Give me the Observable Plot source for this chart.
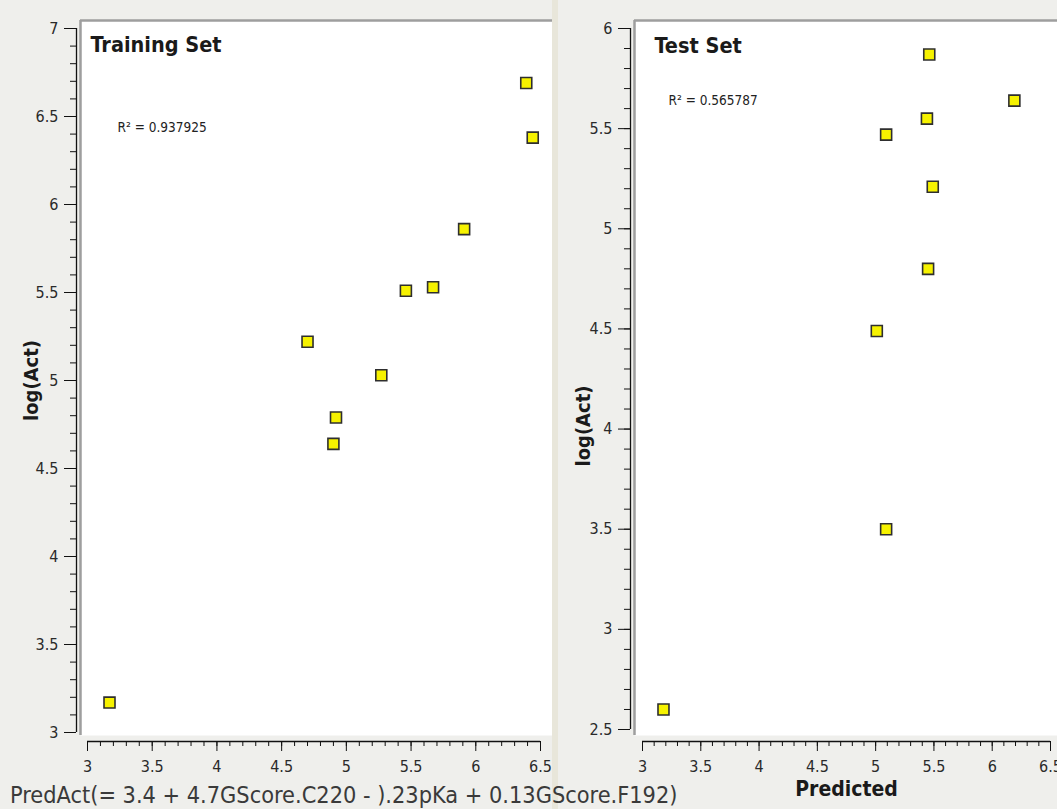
<!DOCTYPE html>
<html><head><meta charset="utf-8">
<script src="https://cdn.jsdelivr.net/npm/d3@7"></script>
<script src="https://cdn.jsdelivr.net/npm/@observablehq/plot@0.6"></script>
<style>
html,body{margin:0;padding:0;background:#efefec;}
#wrap{position:relative;width:1057px;height:809px;background:#efefec;overflow:hidden;font-family:"DejaVu Sans Condensed","DejaVu Sans",sans-serif;font-stretch:condensed;}
#wrap svg text{font-stretch:condensed;}
#left{position:absolute;left:0;top:0;}
#right{position:absolute;left:558px;top:0;}
#split{position:absolute;left:552px;top:0;width:6px;height:809px;background:#e8e6da;}
#caption{position:absolute;left:10px;top:783px;font-size:23.3px;line-height:23px;color:#3a3a3a;white-space:nowrap;}
</style></head><body>
<div id="wrap"><div id="left"></div><div id="split"></div><div id="right"></div><div id="caption"></div></div>
<script>
// ---- data ----
const trainPred = [3.17, 4.70, 4.92, 4.90, 5.27, 5.46, 5.67, 5.91, 6.39, 6.44];
const trainAct  = [3.17, 5.22, 4.79, 4.64, 5.03, 5.51, 5.53, 5.86, 6.69, 6.38];
const testPred  = [3.18, 5.46, 6.19, 5.44, 5.09, 5.49, 5.45, 5.01, 5.09];
const testAct   = [2.60, 5.87, 5.64, 5.55, 5.47, 5.21, 4.80, 4.49, 3.50];
const xTicks = [3, 3.5, 4, 4.5, 5, 5.5, 6, 6.5];
const trainYTicks = [3, 3.5, 4, 4.5, 5, 5.5, 6, 6.5, 7];
const testYTicks = [2.5, 3, 3.5, 4, 4.5, 5, 5.5, 6];
const panelTitles = ["Training Set", "Test Set"];
const r2Labels = ["R\u00B2 = 0.937925", "R\u00B2 = 0.565787"];
const yLabel = "log(Act)";
const xLabel = "Predicted";
const captionText = "PredAct(= 3.4 + 4.7GScore.C220 - ).23pKa + 0.13GScore.F192)";

function minor(lo, hi) {
  return d3.range(Math.round(lo * 10), Math.round(hi * 10) + 1).map(d => d / 10);
}
const fmt = d => String(d);

function panel(o) {
  const rows = o.pred.map((p, i) => ({p, a: o.act[i]}));
  const xd = [xTicks[0], xTicks[xTicks.length - 1]];
  const yd = [o.yTicks[0], o.yTicks[o.yTicks.length - 1]];
  const marks = [
    Plot.frame({fill: "white", stroke: "none", insetLeft: o.fl, insetTop: -8, insetRight: o.fr, insetBottom: o.fb}),
    Plot.ruleX([xd[0]], {dx: o.fl, insetTop: -8, insetBottom: o.fb, stroke: "#9e9e9e", strokeWidth: 2.5}),
    Plot.ruleY([yd[1]], {dy: -8, insetLeft: o.fl, insetRight: o.fr, stroke: "#9e9e9e", strokeWidth: 2.5}),
    // y axis
    Plot.ruleX([xd[0]], {dx: o.ax, stroke: "#111", strokeWidth: 1.3}),
    Plot.axisY({ticks: minor(yd[0], yd[1]), tickSize: 6, dx: o.ax, text: null, label: null, stroke: "#111"}),
    Plot.axisY({ticks: o.yTicks, tickSize: 12, dx: o.ax, tickPadding: 6, tickFormat: fmt, label: null, stroke: "#111", fontSize: 16}),
    // x axis
    Plot.ruleY([yd[0]], {dy: o.ay, stroke: "#111", strokeWidth: 1.3}),
    Plot.axisX({ticks: minor(xd[0], xd[1]), tickSize: 5, dy: o.ay, text: null, label: null, stroke: "#111"}),
    Plot.axisX({ticks: xTicks, tickSize: 10, dy: o.ay, tickPadding: 9, tickFormat: fmt, label: null, stroke: "#111", fontSize: 16}),
    // texts
    Plot.text([o.title], {frameAnchor: "top-left", textAnchor: "start", lineAnchor: "top", dx: o.tdx, dy: o.tdy, fontSize: 21.5, fontWeight: "bold", fill: "#1a1a1a"}),
    Plot.text([o.r2], {frameAnchor: "top-left", textAnchor: "start", lineAnchor: "middle", dx: o.rdx, dy: o.rdy, fontSize: 13.5, fill: "#222"}),
    Plot.text([yLabel], {frameAnchor: "left", rotate: -90, textAnchor: "middle", lineAnchor: "middle", dx: o.ldx, dy: o.ldy, fontSize: 20, fontWeight: "bold", fill: "#1a1a1a"}),
    Plot.dot(rows, {x: "p", y: "a", symbol: "square", r: 6.2, fill: "#f6f200", stroke: "#2e2e2e", strokeWidth: 1.6})
  ];
  if (o.xlab) marks.push(Plot.text([o.xlab], {frameAnchor: "bottom", textAnchor: "middle", lineAnchor: "middle", dy: 60, fontSize: 21, fontWeight: "bold", fill: "#1a1a1a"}));
  return Plot.plot({
    width: o.width, height: 809,
    marginLeft: o.mL, marginRight: o.mR, marginTop: 28, marginBottom: o.mB,
    x: {domain: xd}, y: {domain: yd},
    style: {background: "transparent", fontFamily: "'DejaVu Sans Condensed','DejaVu Sans',sans-serif", fontSize: "16px", color: "#2a2a2a", overflow: "visible"},
    marks
  });
}

document.getElementById("left").appendChild(panel({
  pred: trainPred, act: trainAct, yTicks: trainYTicks,
  width: 552, mL: 87, mR: 12, mB: 77,
  fl: -7, fr: -12, fb: -3, ax: -11, ay: 9,
  title: panelTitles[0], tdx: 3, tdy: 8,
  r2: r2Labels[0], rdx: 30, rdy: 99,
  ldx: -56, ldy: 0
}));
document.getElementById("right").appendChild(panel({
  pred: testPred, act: testAct, yTicks: testYTicks,
  width: 499, mL: 84, mR: 7, mB: 80,
  fl: -8, fr: -7, fb: -6, ax: -12, ay: 12,
  title: panelTitles[1], tdx: 12, tdy: 9,
  r2: r2Labels[1], rdx: 26, rdy: 72,
  ldx: -59, ldy: 47,
  xlab: xLabel
}));
document.getElementById("caption").textContent = captionText;
</script>
</body></html>
